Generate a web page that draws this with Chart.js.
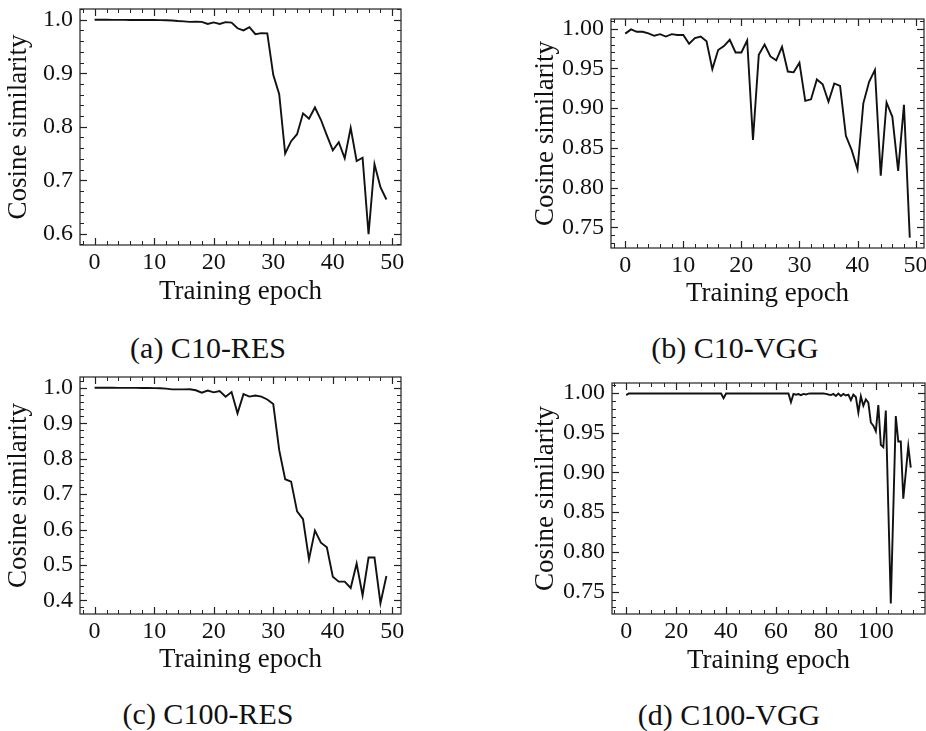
<!DOCTYPE html>
<html>
<head>
<meta charset="utf-8">
<script src="https://cdn.jsdelivr.net/npm/chart.js@4.4.1/dist/chart.umd.min.js"></script>
<style>
  body { margin: 0; background: #fff; }
  #wrap { position: relative; width: 926px; height: 731px; overflow: hidden; }
  canvas { position: absolute; }
  .cap { position: absolute; width: 300px; text-align: center; font-family: "Liberation Serif", serif;
         font-size: 30px; line-height: 30px; color: #111; white-space: nowrap; }
</style>
</head>
<body>
<div id="wrap">
  <canvas id="chartA" width="463" height="310" style="left:0;top:0"></canvas>
  <canvas id="chartB" width="396" height="310" style="left:530px;top:0"></canvas>
  <canvas id="chartC" width="463" height="315" style="left:0;top:365px"></canvas>
  <canvas id="chartD" width="396" height="315" style="left:530px;top:365px"></canvas>
  <div class="cap" style="left:58px;top:333px">(a) C10-RES</div>
  <div class="cap" style="left:585px;top:333px">(b) C10-VGG</div>
  <div class="cap" style="left:58px;top:699px">(c) C100-RES</div>
  <div class="cap" style="left:579px;top:700px">(d) C100-VGG</div>
</div>
<script>
// cosine similarity per training epoch
const c10Res = [1.000, 1.000, 1.000, 0.9998, 0.9997, 0.9997, 0.9996, 0.9996, 0.9995, 0.9995,
    0.9994, 0.9993, 0.9990, 0.9985, 0.9975, 0.9970, 0.9960, 0.9965, 0.9960, 0.9920,
    0.9950, 0.9920, 0.9955, 0.9945, 0.9840, 0.9800, 0.9860, 0.9730, 0.9750, 0.9745,
    0.8970, 0.8610, 0.7500, 0.7730, 0.7860, 0.8250, 0.8150, 0.8360, 0.8130, 0.7840,
    0.7560, 0.7710, 0.7410, 0.7980, 0.7360, 0.7420, 0.5990, 0.7300, 0.6870, 0.6640];

const c10Vgg = [0.9937, 0.9990, 0.9960, 0.9960, 0.9940, 0.9910, 0.9930, 0.9900, 0.9930, 0.9920,
    0.9920, 0.9810, 0.9880, 0.9900, 0.9840, 0.9490, 0.9730, 0.9780, 0.9860, 0.9700,
    0.9700, 0.9850, 0.8600, 0.9670, 0.9800, 0.9650, 0.9600, 0.9770, 0.9460, 0.9450,
    0.9570, 0.9090, 0.9110, 0.9360, 0.9300, 0.9080, 0.9310, 0.9280, 0.8650, 0.8470,
    0.8230, 0.9060, 0.9330, 0.9480, 0.8150, 0.9070, 0.8890, 0.8210, 0.9040, 0.7370];

const c100Res = [1.000, 1.000, 1.000, 1.000, 0.9998, 0.9998, 0.9997, 0.9996, 0.9995, 0.9993,
    0.9990, 0.9985, 0.9975, 0.9955, 0.9955, 0.9955, 0.9960, 0.9930, 0.9860, 0.9920,
    0.9870, 0.9910, 0.9750, 0.9880, 0.9280, 0.9820, 0.9750, 0.9780, 0.9750, 0.9670,
    0.9540, 0.8240, 0.7420, 0.7350, 0.6510, 0.6290, 0.5160, 0.5970, 0.5630, 0.5500,
    0.4670, 0.4530, 0.4530, 0.4350, 0.5040, 0.4140, 0.5210, 0.5210, 0.3920, 0.4690];

const c100Vgg = [0.9975, 0.9995, 0.9995, 0.9995, 0.9995, 0.9995, 0.9995, 0.9995, 0.9995, 0.9995,
    0.9995, 0.9995, 0.9995, 0.9995, 0.9995, 0.9995, 0.9995, 0.9995, 0.9995, 0.9995,
    0.9995, 0.9995, 0.9995, 0.9995, 0.9995, 0.9995, 0.9995, 0.9995, 0.9995, 0.9995,
    0.9995, 0.9995, 0.9995, 0.9995, 0.9995, 0.9995, 0.9995, 0.9995, 0.9995, 0.9935,
    0.9995, 0.9995, 0.9995, 0.9995, 0.9995, 0.9995, 0.9995, 0.9995, 0.9995, 0.9995,
    0.9995, 0.9995, 0.9995, 0.9995, 0.9995, 0.9995, 0.9995, 0.9995, 0.9995, 0.9995,
    0.9995, 0.9995, 0.9995, 0.9995, 0.9995, 0.9995, 0.9885, 0.9990, 0.9980, 0.9988,
    0.9975, 0.9990, 0.9982, 0.9993, 0.9995, 0.9995, 0.9995, 0.9995, 0.9995, 0.9995,
    0.9990, 0.9982, 0.9975, 0.9990, 0.9965, 0.9995, 0.9965, 0.9990, 0.9970, 0.9980,
    0.9910, 0.9980, 0.9950, 0.9755, 0.9960, 0.9840, 0.9920, 0.9880, 0.9630, 0.9590,
    0.9520, 0.9850, 0.9350, 0.9320, 0.9780, 0.8560, 0.7350, 0.8530, 0.9710, 0.9390,
    0.9390, 0.8670, 0.9000, 0.9330, 0.9060];

const epochTicks50 = [0, 10, 20, 30, 40, 50];
const epochTicks115 = [0, 20, 40, 60, 80, 100];
const simTicksA = [0.6, 0.7, 0.8, 0.9, 1.0];
const simTicksB = [0.75, 0.80, 0.85, 0.90, 0.95, 1.00];
const simTicksC = [0.4, 0.5, 0.6, 0.7, 0.8, 0.9, 1.0];
const simTicksD = [0.75, 0.80, 0.85, 0.90, 0.95, 1.00];

const FONT = "'Liberation Serif', 'Times New Roman', serif";
const INK = "#111";

// matplotlib-style autoscale: 5% margin either side
function autoRange(lo, hi) {
    const m = (hi - lo) * 0.05;
    return [lo - m, hi + m];
}

// box around the plot + inward major/minor ticks on all four sides
const frameTicks = {
    id: "frameTicks",
    afterDraw(chart, args, opts) {
        const { ctx, chartArea: { left, right, top, bottom }, scales: { x, y } } = chart;
        ctx.save();
        ctx.strokeStyle = "#222";
        ctx.lineWidth = 1.2;
        ctx.strokeRect(left, top, right - left, bottom - top);

        const seg = (x1, y1, x2, y2) => {
            ctx.beginPath();
            ctx.moveTo(x1, y1);
            ctx.lineTo(x2, y2);
            ctx.stroke();
        };
        const steps = (lo, hi, step) => {
            const out = [];
            for (let k = Math.ceil(lo / step - 1e-9); k * step <= hi + 1e-9; k++) out.push(k * step);
            return out;
        };

        ctx.lineWidth = 1;
        for (const v of steps(x.min, x.max, opts.xMinor)) {
            const px = Math.round(x.getPixelForValue(v)) + 0.5;
            seg(px, bottom, px, bottom - 4);
            seg(px, top, px, top + 4);
        }
        for (const v of steps(y.min, y.max, opts.yMinor)) {
            const py = Math.round(y.getPixelForValue(v)) + 0.5;
            seg(left, py, left + 4, py);
            seg(right, py, right - 4, py);
        }
        ctx.lineWidth = 1.2;
        for (const v of opts.xMajor) {
            const px = Math.round(x.getPixelForValue(v)) + 0.5;
            seg(px, bottom, px, bottom - 7);
            seg(px, top, px, top + 7);
        }
        for (const v of opts.yMajor) {
            const py = Math.round(y.getPixelForValue(v)) + 0.5;
            seg(left, py, left + 7, py);
            seg(right, py, right - 7, py);
        }
        ctx.restore();
    }
};

function makePanel(canvasId, values, xTicks, yTicks, xMinor, yMinor, digits, g) {
    const xr = autoRange(0, values.length - 1);
    const yr = autoRange(Math.min(...values), Math.max(...values));

    return new Chart(document.getElementById(canvasId), {
        type: "line",
        data: {
            datasets: [{
                data: values.map((v, i) => ({ x: i, y: v })),
                borderColor: INK,
                borderWidth: 1.9,
                pointRadius: 0,
                tension: 0,
                fill: false
            }]
        },
        options: {
            responsive: false,
            animation: false,
            events: [],
            layout: { padding: g.pad, autoPadding: false },
            plugins: {
                legend: { display: false },
                tooltip: { enabled: false },
                frameTicks: { xMajor: xTicks, yMajor: yTicks, xMinor: xMinor, yMinor: yMinor }
            },
            scales: {
                x: {
                    type: "linear",
                    bounds: "data",
                    min: xr[0],
                    max: xr[1],
                    grid: { display: false, drawTicks: false },
                    border: { display: false },
                    ticks: {
                        padding: 3,
                        autoSkip: false,
                        maxRotation: 0,
                        color: INK,
                        font: { family: FONT, size: 24 },
                        callback: v => String(v)
                    },
                    afterBuildTicks: s => { s.ticks = xTicks.map(v => ({ value: v })); },
                    afterFit: s => { s.height = g.xH; s.paddingLeft = 0; s.paddingRight = 0; },
                    title: {
                        display: true,
                        text: "Training epoch",
                        color: INK,
                        font: { family: FONT, size: 27, lineHeight: 1 },
                        padding: { top: 0, bottom: g.xTitlePad }
                    }
                },
                y: {
                    type: "linear",
                    bounds: "data",
                    min: yr[0],
                    max: yr[1],
                    grid: { display: false, drawTicks: false },
                    border: { display: false },
                    ticks: {
                        padding: 7,
                        autoSkip: false,
                        color: INK,
                        font: { family: FONT, size: 24 },
                        callback: v => Number(v).toFixed(digits)
                    },
                    afterBuildTicks: s => { s.ticks = yTicks.map(v => ({ value: v })); },
                    afterFit: s => { s.width = g.yW; s.paddingTop = 0; s.paddingBottom = 0; },
                    title: {
                        display: true,
                        text: "Cosine similarity",
                        color: INK,
                        font: { family: FONT, size: 27, lineHeight: 1 },
                        padding: { top: g.yTitlePad, bottom: 0 }
                    }
                }
            }
        },
        plugins: [frameTicks]
    });
}

makePanel("chartA", c10Res, epochTicks50, simTicksA, 2, 0.02, 1,
    { pad: { left: 0, top: 9, right: 62, bottom: 0 }, yW: 80, xH: 65, xTitlePad: 5, yTitlePad: 5 });
makePanel("chartB", c10Vgg, epochTicks50, simTicksB, 2, 0.01, 2,
    { pad: { left: 0, top: 19, right: 2, bottom: 0 }, yW: 81, xH: 62, xTitlePad: 3, yTitlePad: 2 });
makePanel("chartC", c100Res, epochTicks50, simTicksC, 2, 0.02, 1,
    { pad: { left: 0, top: 12, right: 62, bottom: 0 }, yW: 80, xH: 66, xTitlePad: 7, yTitlePad: 5 });
makePanel("chartD", c100Vgg, epochTicks115, simTicksD, 5, 0.01, 2,
    { pad: { left: 0, top: 18, right: 1, bottom: 0 }, yW: 82, xH: 66, xTitlePad: 6, yTitlePad: 2 });
</script>
</body>
</html>
